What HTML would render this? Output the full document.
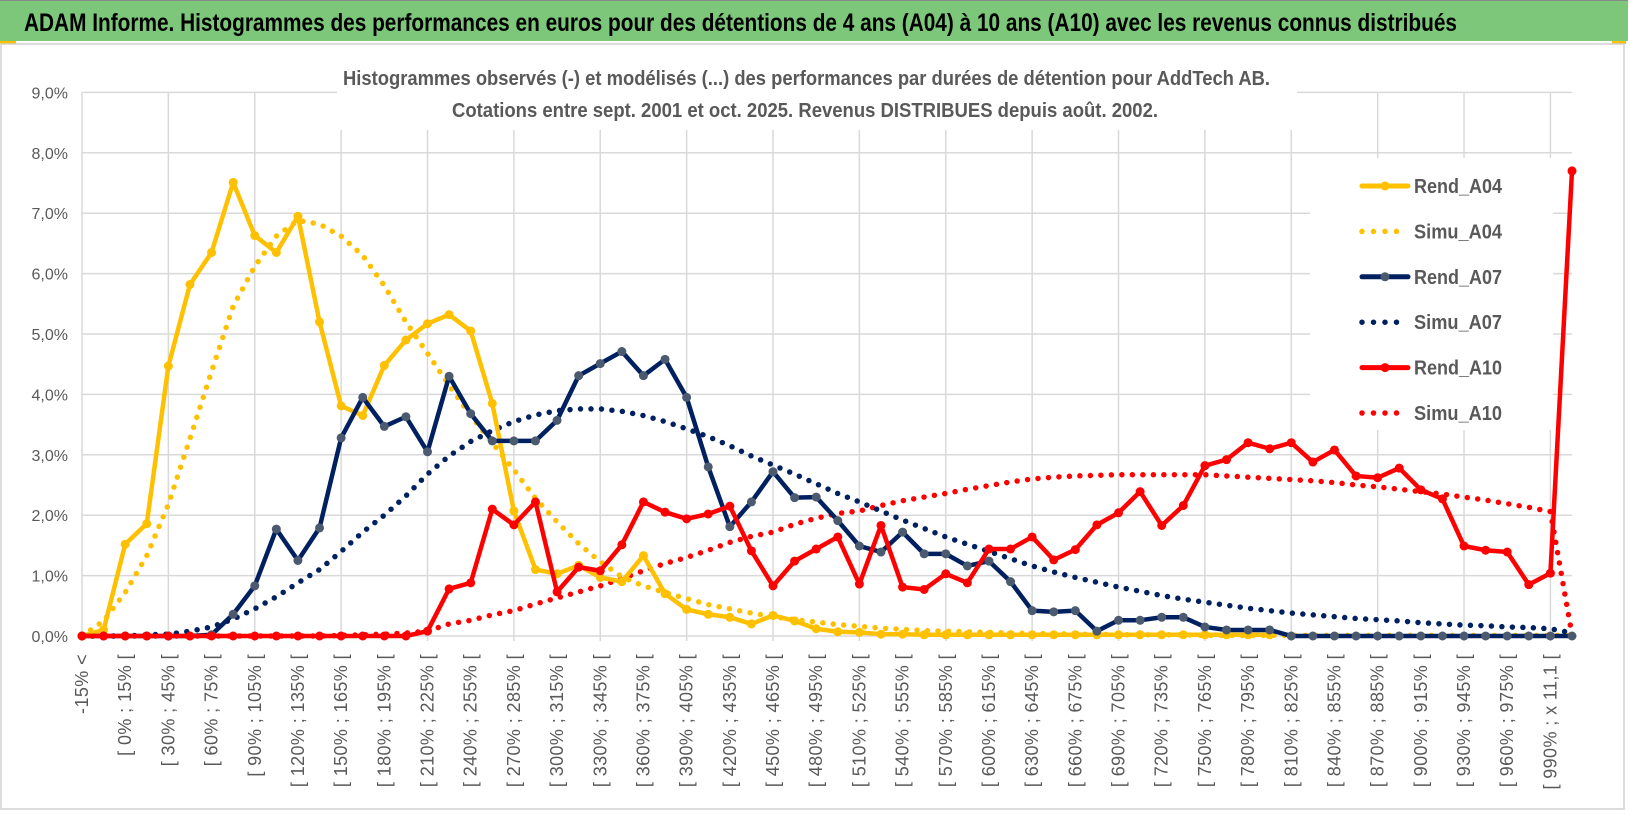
<!DOCTYPE html>
<html><head><meta charset="utf-8">
<style>
html,body{margin:0;padding:0;background:#fff;}
svg{display:block;font-family:"Liberation Sans",sans-serif;}
</style></head>
<body>
<svg id="chart" width="1630" height="815" viewBox="0 0 1630 815" xmlns="http://www.w3.org/2000/svg">
  <rect x="0" y="0" width="1630" height="815" fill="#fff"/>
  <rect x="0" y="0" width="1628" height="41" fill="#7DC77B"/>
  <line x1="0" y1="0.5" x2="1628" y2="0.5" stroke="#8a8a8a" stroke-width="1"/>
  <rect x="0" y="41" width="16" height="3" fill="#FFC000"/>
  <rect x="1612" y="41" width="14" height="3" fill="#FFC000"/>
  <text x="24" y="31" font-size="25" font-weight="bold" fill="#000" textLength="1433" lengthAdjust="spacingAndGlyphs">ADAM Informe. Histogrammes des performances en euros pour des détentions de 4 ans (A04) à 10 ans (A10) avec les revenus connus distribués</text>
  <rect x="1" y="44" width="1623" height="765" fill="none" stroke="#d0d0d0" stroke-width="1.5"/>
  <g id="grid"></g>
  <g id="yaxis"></g>
  <g id="xaxis"></g>
  <rect x="337" y="58" width="960" height="72" fill="#fff"/>
  <text x="343" y="85" font-size="20" font-weight="bold" fill="#595959" textLength="927" lengthAdjust="spacingAndGlyphs">Histogrammes observés (-) et modélisés (...) des performances par durées de détention pour AddTech AB.</text>
  <text x="452" y="117" font-size="20" font-weight="bold" fill="#595959" textLength="706" lengthAdjust="spacingAndGlyphs">Cotations entre sept. 2001 et oct. 2025.  Revenus DISTRIBUES depuis août. 2002.</text>
  <g id="series"></g>
  <rect x="1310" y="158" width="243" height="272" fill="#fff"/>
  <g id="legend"></g>
  <g id="series-top"></g>
</svg>
<script>
const categories = (function(){
  const c = ["-15% <", "[ -15% ; 0% ["];
  for (let v = 0; v <= 990; v += 15) c.push("[ " + v + "% ; " + (v === 990 ? "x 11,1" : (v + 15) + "%") + " [");
  c.push("> x 11,1");
  return c;
})();
const yTicks = [0,1,2,3,4,5,6,7,8,9];
const yTickLabels = ["0,0%","1,0%","2,0%","3,0%","4,0%","5,0%","6,0%","7,0%","8,0%","9,0%"];

const rendA04 = [0,0.1,1.52,1.86,4.47,5.82,6.35,7.51,6.63,6.35,6.95,5.2,3.81,3.65,4.48,4.9,5.17,5.32,5.05,3.85,2.07,1.1,1.03,1.17,0.97,0.9,1.33,0.7,0.44,0.36,0.31,0.2,0.34,0.25,0.12,0.07,0.06,0.03,0.03,0.02,0.02,0.02,0.02,0.02,0.02,0.02,0.02,0.02,0.02,0.02,0.02,0.02,0.02,0.02,0.02,0.02];
const simuA04 = [0,0.25,0.72,1.33,2.18,3.27,4.38,5.46,6.12,6.62,6.88,6.82,6.62,6.3,5.8,5.2,4.68,4.15,3.65,3.2,2.75,2.28,1.89,1.53,1.23,0.98,0.83,0.72,0.62,0.52,0.45,0.38,0.32,0.27,0.23,0.19,0.16,0.13,0.11,0.09,0.08,0.07,0.06,0.05,0.04,0.04,0.03,0.03,0.02,0.02,0.02,0.02,0.01,0.01,0.01,0.01,0.01,0.01,0.01,0.01,0.01,0.01,0.01,0.01,0.01,0.01,0.01,0.01,0.01,0.01];
const rendA07 = [0,0,0,0,0,0,0.02,0.36,0.83,1.77,1.25,1.79,3.28,3.95,3.47,3.63,3.05,4.3,3.68,3.23,3.23,3.23,3.57,4.31,4.51,4.71,4.31,4.58,3.95,2.8,1.81,2.22,2.72,2.29,2.3,1.91,1.49,1.39,1.72,1.36,1.36,1.16,1.24,0.9,0.42,0.4,0.42,0.08,0.26,0.26,0.31,0.31,0.15,0.1,0.1,0.1,0,0,0,0,0,0,0,0,0,0,0,0,0,0];
const simuA07 = [0,0,0,0.02,0.03,0.08,0.15,0.28,0.45,0.65,0.88,1.1,1.4,1.72,2.0,2.32,2.68,2.98,3.22,3.4,3.55,3.66,3.73,3.76,3.76,3.72,3.65,3.55,3.43,3.3,3.15,2.98,2.83,2.68,2.52,2.36,2.22,2.07,1.92,1.78,1.64,1.52,1.4,1.28,1.16,1.06,0.97,0.89,0.81,0.74,0.67,0.61,0.56,0.51,0.46,0.42,0.38,0.35,0.32,0.29,0.27,0.25,0.22,0.2,0.18,0.17,0.15,0.14,0.12,0.05];
const rendA10 = [0,0,0,0,0,0,0,0,0,0,0,0,0,0,0,0,0.08,0.78,0.88,2.1,1.84,2.22,0.73,1.14,1.08,1.51,2.22,2.05,1.94,2.02,2.15,1.41,0.83,1.24,1.44,1.64,0.86,1.83,0.81,0.77,1.03,0.88,1.44,1.44,1.64,1.26,1.43,1.84,2.04,2.39,1.83,2.16,2.82,2.92,3.2,3.1,3.2,2.88,3.08,2.65,2.62,2.78,2.42,2.27,1.49,1.42,1.39,0.85,1.04,7.7];
const simuA10 = [0,0,0,0,0,0,0,0,0,0,0,0,0.01,0.02,0.03,0.05,0.08,0.2,0.26,0.35,0.42,0.53,0.63,0.73,0.83,0.95,1.08,1.2,1.3,1.42,1.55,1.65,1.72,1.85,1.95,2.03,2.07,2.16,2.24,2.3,2.36,2.43,2.49,2.55,2.6,2.63,2.65,2.66,2.67,2.67,2.67,2.67,2.67,2.65,2.63,2.61,2.59,2.57,2.54,2.5,2.47,2.43,2.39,2.35,2.3,2.25,2.19,2.13,2.06,0.02];

const NS = "http://www.w3.org/2000/svg";
const X0 = 82, X1 = 1572, Y0 = 636, YPER = 60.4;
const N = categories.length;
function xScale(i){ return X0 + i * (X1 - X0) / (N - 1); }
function yScale(v){ return Y0 - v * YPER; }
function mk(tag, attrs, parent){
  const e = document.createElementNS(NS, tag);
  for (const k in attrs) e.setAttribute(k, attrs[k]);
  parent.appendChild(e);
  return e;
}
const grid = document.getElementById("grid");
yTicks.forEach(t => {
  const l = mk("line", {x1: X0, x2: X1, y1: yScale(t), y2: yScale(t), stroke: "#d9d9d9", "stroke-width": 1.5}, grid);
  
  
});
for (let i = 0; i < N; i += 4) {
  const l = mk("line", {x1: xScale(i), x2: xScale(i), y1: yScale(9), y2: Y0 + 5, stroke: "#d9d9d9", "stroke-width": 1.5}, grid);
  
  
}
const yaxis = document.getElementById("yaxis");
yTicks.forEach((t, k) => {
  const tx = mk("text", {x: 68, y: yScale(t) + 6, "text-anchor": "end", "font-size": 16, fill: "#595959"}, yaxis);
  tx.textContent = yTickLabels[k];
  
  
});
const xaxis = document.getElementById("xaxis");
for (let i = 0; i < N; i += 2) {
  const x = xScale(i) + 6, y = 654;
  const tx = mk("text", {x: x, y: y, "text-anchor": "end", "font-size": 18, "letter-spacing": 0.4, fill: "#595959", transform: "rotate(-90 " + x + " " + y + ")"}, xaxis);
  tx.textContent = categories[i];
  
  
}
function drawLine(data, color, markerColor, parent, name){
  const pts = data.map((v, i) => xScale(i) + "," + yScale(v)).join(" ");
  const g = mk("g", {}, parent);
  
  
  const pl = mk("polyline", {points: pts, fill: "none", stroke: color, "stroke-width": 4.5, "stroke-linejoin": "round", "stroke-linecap": "round"}, g);
  
  
  data.forEach((v, i) => {
    const c = mk("circle", {cx: xScale(i), cy: yScale(v), r: 4.5, fill: markerColor}, g);
    
    
  });
}
function drawDots(data, color, parent, name){
  const pts = data.map((v, i) => xScale(i) + "," + yScale(v)).join(" ");
  const pl = mk("polyline", {points: pts, fill: "none", stroke: color, "stroke-width": 5.5, "stroke-linecap": "round", "stroke-dasharray": "0 10.5"}, parent);
  
  
}
const series = document.getElementById("series");
drawDots(simuA10, "#FF0000", series, "simu-a10-line");
drawDots(simuA07, "#002060", series, "simu-a07-line");
drawDots(simuA04, "#FFC000", series, "simu-a04-line");
drawLine(rendA04, "#FFC000", "#FFC000", series, "rend-a04");
drawLine(rendA07, "#002060", "#4B5A6E", series, "rend-a07");
drawLine(rendA10, "#FF0000", "#FF0000", document.getElementById("series-top"), "rend-a10");

const legendNames = ["Rend_A04","Simu_A04","Rend_A07","Simu_A07","Rend_A10","Simu_A10"];
const legendColors = ["#FFC000","#FFC000","#002060","#002060","#FF0000","#FF0000"];
const legend = document.getElementById("legend");
legendNames.forEach((nm, k) => {
  const y = 186 + k * 45.4;
  const g = mk("g", {}, legend);
  
  
  if (k % 2 === 0) {
    mk("line", {x1: 1362, x2: 1408, y1: y, y2: y, stroke: legendColors[k], "stroke-width": 5, "stroke-linecap": "round"}, g);
    mk("circle", {cx: 1385, cy: y, r: 4.5, fill: k === 2 ? "#4B5A6E" : legendColors[k]}, g);
  } else {
    mk("line", {x1: 1362, x2: 1408, y1: y, y2: y, stroke: legendColors[k], "stroke-width": 5.5, "stroke-linecap": "round", "stroke-dasharray": "0 11.5"}, g);
  }
  const tx = mk("text", {x: 1414, y: y + 7, "font-size": 20, "font-weight": "bold", fill: "#595959", textLength: 88, lengthAdjust: "spacingAndGlyphs"}, g);
  tx.textContent = nm;
});
</script>
</body></html>
